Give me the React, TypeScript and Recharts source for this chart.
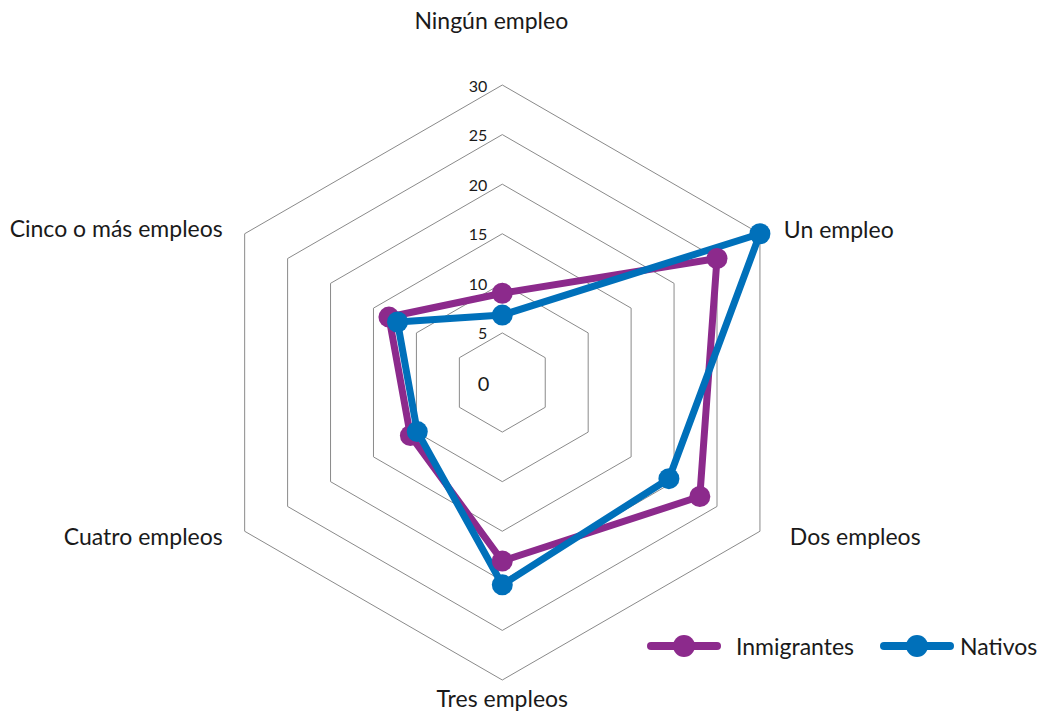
import React from 'react';
import { RadarChart, Radar, PolarGrid, PolarAngleAxis, PolarRadiusAxis, Legend } from 'recharts';

const categories = ['Ningún empleo', 'Un empleo', 'Dos empleos', 'Tres empleos', 'Cuatro empleos', 'Cinco o más empleos'];
const inmigrantes = [9.0, 25.0, 23.0, 18.0, 10.7, 13.2];
const nativos = [6.8, 30.0, 19.4, 20.4, 9.9, 12.2];
const radiusTicks = [0, 5, 10, 15, 20, 25, 30];
const seriesNames = ['Inmigrantes', 'Nativos'];
const COLORS = ['#8C2A8C', '#0070BA'];

const data = categories.map((c, i) => ({ category: c, Inmigrantes: inmigrantes[i], Nativos: nativos[i] }));

const FONT = 'Lato, "Open Sans", sans-serif';
const TEXT = '#1a1a1a';

// label nudges relative to the axis tick anchor, per category index
const labelNudges: [number, number][] = [
  [-11, -57],
  [17, -1],
  [23, 1],
  [0, 10],
  [-15, 1],
  [-15, -2],
];

const AngleTick = (props: any) => {
  const { x, y, payload, index, textAnchor } = props;
  const [dx, dy] = labelNudges[index] || [0, 0];
  return (
    <text x={x + dx} y={y + dy} textAnchor={textAnchor} dominantBaseline="central" fontFamily={FONT} fontSize={23} fill={TEXT}>
      {payload.value}
    </text>
  );
};

const RadiusTick = (props: any) => {
  const { x, y, payload } = props;
  const isZero = payload.value === 0;
  return (
    <text x={x - (isZero ? 13 : 15)} y={y} textAnchor="end" dominantBaseline="central" fontFamily={FONT} fontSize={isZero ? 20 : 16} fill={TEXT}>
      {payload.value}
    </text>
  );
};

const makeDot = (color: string) => (p: any) => (
  <circle key={`dot-${p.index}`} cx={p.cx} cy={p.cy} r={10.5} fill={color} />
);

const renderLegend = () => (
  <div style={{ display: 'flex', alignItems: 'center', fontFamily: FONT, fontSize: 23, color: TEXT, lineHeight: '24px', width: 400 }}>
    {seriesNames.map((n, i) => (
      <div key={n} style={{ display: 'flex', alignItems: 'center', marginRight: i === 0 ? 26 : 0 }}>
        <svg width={74} height={24} style={{ display: 'block', flexShrink: 0 }}>
          <line x1={4} y1={12} x2={70} y2={12} stroke={COLORS[i]} strokeWidth={8} strokeLinecap="round" />
          <circle cx={37} cy={12} r={11} fill={COLORS[i]} />
        </svg>
        <span style={{ marginLeft: i === 0 ? 15 : 6, whiteSpace: 'nowrap' }}>{n}</span>
      </div>
    ))}
  </div>
);

export default function App() {
  return (
    <div style={{ width: 1040, height: 711, background: '#fff', overflow: 'hidden' }}>
      <style>{`html,body{margin:0;padding:0;overflow:hidden;background:#fff}`}</style>
      <RadarChart
        width={1040}
        height={711}
        data={data}
        cx={502.3}
        cy={382.5}
        outerRadius={297.5}
        margin={{ top: 0, right: 0, bottom: 0, left: 0 }}
      >
        <PolarGrid gridType="polygon" radialLines={false} stroke="#8a8a8a" strokeWidth={1} />
        <PolarAngleAxis dataKey="category" tick={<AngleTick />} tickLine={false} axisLine={false} />
        <PolarRadiusAxis angle={90} domain={[0, 30]} ticks={radiusTicks} tickCount={7} axisLine={false} tickLine={false} tick={<RadiusTick />} />
        <Radar
          name={seriesNames[0]}
          dataKey="Inmigrantes"
          stroke={COLORS[0]}
          strokeWidth={7}
          strokeLinejoin="round"
          fill="none"
          fillOpacity={0}
          dot={makeDot(COLORS[0])}
          isAnimationActive={false}
        />
        <Radar
          name={seriesNames[1]}
          dataKey="Nativos"
          stroke={COLORS[1]}
          strokeWidth={7}
          strokeLinejoin="round"
          fill="none"
          fillOpacity={0}
          dot={makeDot(COLORS[1])}
          isAnimationActive={false}
        />
        <Legend
          layout="vertical"
          align="center"
          verticalAlign="middle"
          content={renderLegend}
          wrapperStyle={{ left: 647, top: 634, width: 400, height: 24 }}
        />
      </RadarChart>
    </div>
  );
}
